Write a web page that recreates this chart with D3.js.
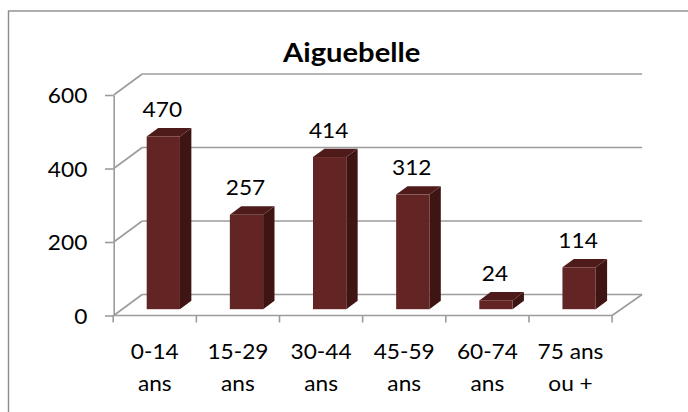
<!DOCTYPE html>
<html>
<head>
<meta charset="utf-8">
<script src="https://cdn.jsdelivr.net/npm/d3@7"></script>
<style>
  html, body { margin: 0; padding: 0; background: #fff; }
  svg { display: block; }
  text { font-family: Lato, "Open Sans", sans-serif; fill: #000; }
</style>
</head>
<body>
<svg id="chart" width="688" height="412"></svg>
<script>
// ---- data ----
const title = "Aiguebelle";
const categories = [["0-14", "ans"], ["15-29", "ans"], ["30-44", "ans"], ["45-59", "ans"], ["60-74", "ans"], ["75 ans", "ou +"]];
const values = [470, 257, 414, 312, 24, 114];
const yTicks = [0, 200, 400, 600];

// ---- layout ----
const DX = 28.5, DY = 21;       // full depth offset
const D0 = 0.3, D1 = 0.7;       // bar depth range
const SX = 1.08;                // horizontal text stretch
const FS = 21;                  // label font size
const svg = d3.select("#chart");

const catKeys = categories.map(c => c.join(" "));
const x = d3.scaleBand().domain(catKeys).range([113.2, 612.1]);
const y = d3.scaleLinear().domain([0, 600]).range([315.5, 95]);

const gridColor = "#9c9c9c";
const gw = 1.6;

// outer border
svg.append("rect").attr("x", 8.5).attr("y", 11).attr("width", 720).attr("height", 440)
  .attr("fill", "#fff").attr("stroke", "#8c8c8c").attr("stroke-width", 1.4);

// title
svg.append("text").attr("transform", `translate(351.7,61.7) scale(${SX},1)`)
  .attr("text-anchor", "middle").attr("font-weight", "bold").attr("font-size", 27)
  .text(title);

const x1 = x.range()[1];
const yAxisX = 113.7;

// back wall gridlines
svg.append("g").selectAll("line").data(yTicks).join("line")
  .attr("x1", yAxisX + DX).attr("x2", x1 + DX + 1.5)
  .attr("y1", d => y(d) - DY).attr("y2", d => y(d) - DY)
  .attr("stroke", gridColor).attr("stroke-width", gw);

// side wall diagonals
svg.append("g").selectAll("line").data(yTicks).join("line")
  .attr("x1", yAxisX).attr("x2", yAxisX + DX)
  .attr("y1", d => y(d)).attr("y2", d => y(d) - DY)
  .attr("stroke", gridColor).attr("stroke-width", gw);

// floor: front edge and right edge
svg.append("line").attr("x1", yAxisX).attr("x2", x1).attr("y1", y(0)).attr("y2", y(0))
  .attr("stroke", gridColor).attr("stroke-width", gw);
svg.append("line").attr("x1", x1).attr("x2", x1 + DX + 1.5).attr("y1", y(0)).attr("y2", y(0) - DY)
  .attr("stroke", gridColor).attr("stroke-width", gw);

// y axis
const yAxis = d3.axisLeft(y).tickValues(yTicks).tickSize(8.7).tickSizeOuter(0).tickPadding(17.7);
const yg = svg.append("g").attr("transform", `translate(${yAxisX},0)`).call(yAxis);
yg.select(".domain").attr("stroke", gridColor).attr("stroke-width", gw);
yg.selectAll(".tick line").attr("stroke", gridColor).attr("stroke-width", gw);
yg.selectAll(".tick text")
  .attr("font-family", "Lato, 'Open Sans', sans-serif").attr("font-size", FS).attr("fill", "#000")
  .attr("x", 0).attr("dy", "0.36em")
  .attr("transform", `translate(${-(8.7 + 17.7)},0) scale(${SX},1)`);

// x axis ticks at band boundaries
const bounds = catKeys.map(k => x(k)).concat([x1]);
svg.append("g").selectAll("line").data(bounds).join("line")
  .attr("x1", d => d).attr("x2", d => d).attr("y1", y(0)).attr("y2", y(0) + 7)
  .attr("stroke", gridColor).attr("stroke-width", gw);

// x labels
const xl = svg.append("g").selectAll("text").data(categories).join("text")
  .attr("transform", (d, i) => `translate(${x(catKeys[i]) + x.bandwidth() / 2},359.3) scale(${SX},1)`)
  .attr("text-anchor", "middle").attr("font-size", FS);
xl.selectAll("tspan").data(d => d).join("tspan")
  .attr("x", 0).attr("y", (d, j) => j * 31.4).text(d => d);

// bars
const bw = x.bandwidth() * 0.4;
const dd = D1 - D0;
const bars = svg.append("g").selectAll("g").data(values).join("g");
function geom(v, i) {
  const fx0 = x(catKeys[i]) + (x.bandwidth() - bw) / 2 + D0 * DX;
  const fx1 = fx0 + bw;
  const yb = y(0) - D0 * DY;
  const yt = y(v) - D0 * DY;
  return { fx0, fx1, yb, yt };
}
bars.append("path").attr("fill", "#3f1514")
  .attr("d", (v, i) => { const g = geom(v, i);
    return `M${g.fx1},${g.yt}L${g.fx1 + dd * DX},${g.yt - dd * DY}L${g.fx1 + dd * DX},${g.yb - dd * DY}L${g.fx1},${g.yb}Z`; });
bars.append("path").attr("fill", "#4e1b1a")
  .attr("d", (v, i) => { const g = geom(v, i);
    return `M${g.fx0},${g.yt}L${g.fx1},${g.yt}L${g.fx1 + dd * DX},${g.yt - dd * DY}L${g.fx0 + dd * DX},${g.yt - dd * DY}Z`; });
bars.append("rect").attr("fill", "#632523")
  .attr("x", (v, i) => geom(v, i).fx0).attr("width", bw)
  .attr("y", (v, i) => geom(v, i).yt).attr("height", (v, i) => geom(v, i).yb - geom(v, i).yt);

// data labels
svg.append("g").selectAll("text").data(values).join("text")
  .attr("transform", (v, i) => { const g = geom(v, i);
    return `translate(${(g.fx0 + g.fx1) / 2 - 1},${y(v) - D1 * DY - 11}) scale(${SX},1)`; })
  .attr("text-anchor", "middle").attr("font-size", FS)
  .text(v => v);
</script>
</body>
</html>
